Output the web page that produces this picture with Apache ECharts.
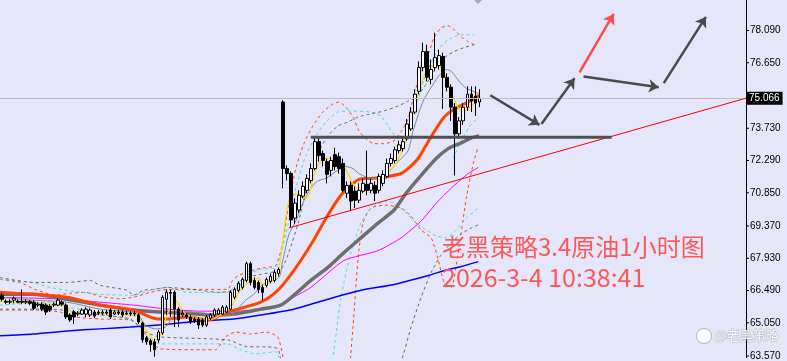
<!DOCTYPE html>
<html><head><meta charset="utf-8">
<script src="https://cdn.jsdelivr.net/npm/echarts@6/dist/echarts.min.js"></script>
<style>html,body{margin:0;padding:0;background:#E6E6FA;}#c{width:787px;height:361px;}</style>
</head><body><div id="c"></div>
<script>
// ---------- DATA ----------
const slotCount = 186; // hourly slots shown (incl. empty right margin)
const categories = Array.from({length: slotCount}, (_, i) => 'H' + i);
// candles: [open, close, low, high]
const candles = [
[66.28,66.10,66.01,66.37],[66.01,65.97,65.88,66.10],[65.97,66.01,65.88,66.10],[66.06,66.15,65.92,66.23],
[66.01,65.97,65.92,66.10],[66.01,65.97,65.88,66.54],[65.97,66.01,65.88,66.10],[66.01,65.92,65.84,66.06],
[65.97,65.70,65.62,66.06],[65.84,65.88,65.75,65.97],[65.88,65.66,65.57,65.97],[65.84,65.53,65.40,65.92],
[65.79,65.62,65.53,65.88],[65.84,65.88,65.75,65.97],[65.84,66.06,65.79,66.15],[65.97,65.88,65.79,66.06],
[65.84,65.31,65.22,65.92],[65.40,65.18,65.09,65.48],[65.53,65.31,65.00,65.62],[65.44,65.48,65.35,65.57],
[65.44,65.62,65.40,65.70],[65.44,65.66,65.31,65.75],[65.40,65.62,65.31,65.70],[65.53,65.35,65.26,65.62],
[65.53,65.48,65.40,65.62],[65.48,65.53,65.40,65.62],[65.53,65.48,65.40,65.62],[65.62,65.31,65.22,65.70],
[65.44,65.53,65.40,65.62],[65.53,65.48,65.40,65.62],[65.53,65.40,65.31,65.62],[65.44,65.48,65.40,65.57],
[65.48,65.44,65.35,65.57],[65.44,65.48,65.35,65.57],[65.40,65.09,65.00,65.48],[65.04,64.29,64.16,65.09],
[64.38,64.20,64.07,64.47],[64.25,64.07,63.76,64.34],[64.20,63.85,63.54,64.34],[64.29,64.64,64.16,64.73],
[64.60,66.19,64.51,66.28],[66.10,66.41,65.40,66.54],[66.41,66.37,65.31,66.54],[66.41,65.66,64.86,66.50],
[65.66,65.18,64.86,65.75],[65.40,65.48,65.31,65.62],[65.40,65.31,65.22,65.48],[65.31,65.09,65.00,65.40],
[65.22,65.13,65.04,65.31],[65.22,64.95,64.78,65.31],[65.18,64.95,64.86,65.26],[64.95,65.31,64.86,65.40],
[65.26,65.40,65.18,65.48],[65.40,65.62,65.31,65.70],[65.44,65.62,65.40,65.70],[65.44,65.75,65.40,65.84],
[65.53,65.75,65.48,65.84],[65.66,66.41,65.62,66.50],[66.19,66.54,66.10,66.63],[66.50,66.81,66.41,66.90],
[66.63,66.99,66.54,67.07],[66.94,67.69,66.85,67.78],[67.69,66.85,66.72,67.78],[66.94,66.63,66.54,67.07],
[66.85,66.54,66.37,66.94],[66.63,66.41,66.06,66.76],[66.72,66.99,66.63,67.07],[66.90,67.12,66.81,67.25],
[66.94,67.30,66.85,67.43],[67.25,67.43,67.12,67.52],[74.90,71.93,71.05,74.98],[71.93,71.71,71.40,72.07],
[71.71,69.64,69.28,71.80],[69.72,70.39,69.46,70.61],[70.08,70.74,69.95,70.96],[70.70,71.14,70.61,71.36],
[70.96,71.49,70.83,71.67],[71.40,71.93,71.27,72.16],[71.93,73.13,71.85,73.35],[73.13,72.51,72.24,73.30],
[72.60,72.29,72.02,72.73],[72.24,71.67,71.27,72.38],[71.85,72.29,71.58,72.46],[72.55,72.02,71.85,72.86],
[72.46,71.93,71.71,72.64],[72.16,70.96,70.87,72.38],[70.83,71.18,70.61,71.36],[71.18,70.48,70.08,71.36],
[70.92,70.52,70.17,71.14],[70.52,70.96,70.39,71.27],[70.92,71.27,70.83,71.49],[71.23,70.96,70.74,72.73],
[70.96,71.27,70.83,71.49],[71.18,70.83,70.48,71.36],[70.96,71.58,70.83,71.71],[71.27,71.67,71.14,71.85],
[71.58,72.16,71.49,72.38],[72.16,72.38,72.02,72.60],[72.29,72.77,72.16,72.91],[72.73,72.99,72.60,73.17],
[72.82,73.13,72.69,73.35],[73.26,73.92,73.17,74.14],[73.70,74.45,73.61,74.67],[74.45,75.25,74.36,75.47],
[75.38,76.44,75.25,76.71],[76.44,77.15,76.27,77.55],[77.15,76.00,75.82,77.46],[75.91,76.35,75.69,76.80],
[76.44,76.88,76.27,77.99],[76.53,76.97,76.35,77.24],[76.93,76.00,74.59,77.10],[76.00,75.56,75.38,76.18],
[75.56,74.67,74.06,75.69],[74.67,73.48,71.62,74.85],[73.48,74.06,73.26,74.23],[74.06,74.67,73.88,74.85],
[74.67,75.25,74.50,75.60],[75.25,74.94,74.45,75.60],[75.16,74.85,74.28,75.60],[74.90,75.066,74.67,75.47]
];
const lastPrice = 75.066;
const yTickValues = [63.57, 65.05, 66.49, 67.93, 69.37, 70.85, 72.29, 73.73, 76.65, 78.09];

// indicator lines: [slot index, price]
const maYellow = [[-0.5,66.01],[4.5,65.97],[7.75,65.92],[12,65.88],[16.25,65.75],[17.75,65.44],[19.5,65.53],[22,65.53],[24.5,65.48],[27,65.48],[30.75,65.40],[34,65.31],[35.75,64.78],[37.5,64.34],[38.75,64.29],[40,64.73],[41.25,65.44],[42.5,65.88],[43.5,66.01],[44.5,65.75],[45.75,65.44],[47.5,65.31],[50,65.22],[52.5,65.22],[54.5,65.40],[56.25,65.62],[57.5,65.88],[58.75,66.32],[60,66.63],[61.5,66.85],[62.75,66.99],[64,67.03],[65,66.76],[67.5,66.94],[69,67.43],[70,68.71],[70.75,69.72],[71.5,70.48],[72.5,70.74],[73.75,70.79],[75,70.65],[76.25,70.65],[77,71.05],[77.75,71.63],[79,72.16],[80.75,72.38],[82,72.38],[83.75,72.24],[85,72.07],[86.25,71.71],[87.75,71.18],[89,70.92],[90.25,70.92],[92,71.05],[93.75,71.18],[95.25,71.49],[96.5,71.80],[98.25,72.16],[99.5,72.60],[100.75,73.26],[102,74.06],[103.25,74.94],[104.5,75.69],[105.75,76.27],[107,76.49],[108,76.57],[109.5,76.44],[110.75,76.00],[112,75.34],[113.25,74.81],[114.5,74.50],[116.25,74.59],[117.75,74.85],[119,75.03]];
const maGrayThin = [[-0.5,66.19],[7.75,66.06],[16.25,65.97],[24.5,65.66],[32,65.53],[34,65.40],[35.75,64.95],[38.25,64.78],[40.75,64.86],[43.25,65.44],[46.5,65.53],[52.5,65.44],[54.5,65.35],[57.5,65.44],[60.75,66.06],[62.75,66.32],[65,66.76],[69,67.07],[70,67.83],[71.5,68.97],[73.25,69.59],[75,70.39],[76.25,70.83],[77.5,71.18],[79,71.40],[80.75,71.49],[83.25,71.80],[85.75,72.02],[87.5,71.93],[89,71.71],[92,71.49],[95.25,71.58],[98.75,72.24],[101.25,72.73],[102.5,73.61],[105,74.94],[107.5,75.69],[109,76.09],[110.75,76.35],[112,76.27],[114,75.82],[115.75,75.51],[117.5,75.38],[119,75.25]];
const maOrange = [[-0.5,66.41],[7.75,66.32],[16.25,66.19],[24.5,65.84],[32.75,65.62],[38.75,65.22],[41.25,65.22],[46.25,65.31],[51.25,65.18],[56.25,65.53],[64.5,65.97],[68.75,66.50],[72.75,67.38],[77,68.53],[81.25,69.86],[84.5,70.74],[87,71.18],[89,71.45],[92,71.49],[96.25,71.58],[99.5,71.71],[101.25,71.93],[103.75,72.38],[106.25,73.13],[107.75,73.57],[110.25,74.23],[112.75,74.59],[116.25,74.90],[119,75.20]];
const maGrayThick = [[-0.5,66.32],[7.75,66.32],[16.25,66.10],[24.5,65.84],[32.75,65.62],[39.5,65.53],[46.25,65.48],[52.75,65.40],[57.75,65.44],[64.5,65.66],[69.5,65.84],[72.75,66.28],[77,66.94],[81.25,67.52],[85.25,68.18],[89.5,68.84],[93.75,69.50],[97.75,70.08],[100.75,70.83],[104.5,71.63],[108.25,72.38],[111.25,72.82],[114.5,73.08],[117,73.30],[119,73.39]];
const maMagenta = [[-0.5,66.19],[16.25,66.10],[24.5,65.97],[32.75,65.84],[41.25,65.66],[49.5,65.57],[57.75,65.57],[64.5,65.62],[68.75,65.75],[72.75,66.19],[77,66.63],[85.25,67.83],[93.75,68.27],[99.5,68.84],[104.5,69.59],[108.75,70.48],[112.75,71.18],[116.25,71.71],[118.75,71.98]];
const maBlue = [[-0.5,64.47],[7.75,64.55],[16.25,64.69],[24.5,64.78],[32,64.86],[41.25,64.99],[49.5,65.13],[57.75,65.22],[64.5,65.40],[72.75,65.66],[81.25,66.10],[89.5,66.50],[97.75,66.76],[106.25,67.16],[111.25,67.43],[114.5,67.56],[118.75,67.78]];
const bandOrangeUp = [[-0.5,66.99],[4.5,66.85],[8.25,66.54],[13.25,66.28],[17,66.37],[20.75,66.41],[24.5,66.23],[29.5,66.12],[32.75,66.19],[37,66.41],[41.25,66.54],[49.5,66.54],[56.25,66.54],[57.5,66.94],[59,67.16],[60.75,67.30],[63.25,67.43],[65.75,67.52],[68.25,67.60],[70,68.62],[71.5,70.39],[73.25,71.93],[75.25,73.04],[77.5,73.83],[80,74.45],[82.5,74.81],[84,74.90],[85.75,74.67],[87.5,74.23],[89,73.61],[90.75,73.26],[92.75,73.04],[95.25,73.04],[97.75,73.17],[99.5,73.57],[101.25,74.14],[102.75,75.25],[104.5,76.22],[106.25,77.02],[107.75,77.77],[109.5,78.21],[111.25,78.30],[112.75,78.12],[114.5,77.81],[116.25,77.59],[117.75,77.46]];
const bandOrangeLow = [[-0.5,65.62],[9.5,65.62],[14.5,65.53],[18.25,65.31],[24.5,65.22],[32,65.18],[34.5,64.86],[37,64.20],[39.5,63.89],[49.5,63.85],[53.25,63.85],[55.75,64.42],[58.25,64.64],[62,64.55],[65.75,64.64],[68.75,64.42],[70.25,63.32],[72,60.89],[79.5,59.12],[85.75,61.77],[87.5,64.86],[88.75,67.87],[90,69.50],[92,70.17],[95.75,70.30],[99.5,70.17],[102,69.81],[104.5,69.19],[107,68.84],[108.75,67.87],[110.25,66.85],[112,66.63],[113.75,68.18],[115.75,70.61],[117.5,72.16],[118.75,72.91]];
const bandCyanUp = [[-0.5,66.99],[7.75,66.85],[12,66.63],[16.25,66.50],[24.5,66.32],[32.75,66.28],[37,66.50],[41.25,66.63],[46.25,66.41],[56.25,66.41],[57.75,66.63],[61.25,67.21],[64.5,67.43],[68.25,67.52],[70.75,68.97],[73.25,71.05],[75.75,72.51],[78.25,73.39],[80.75,74.01],[83.75,74.45],[86.25,74.50],[92,74.45],[94.5,74.28],[96.25,73.83],[98.75,73.26],[100.25,73.26],[102,74.01],[103.75,75.03],[105.25,75.91],[107,76.66],[108.75,77.24],[111.25,77.68],[114.5,77.90],[117.75,77.90]];
const bandCyanLow = [[-0.5,65.84],[12,65.97],[16.25,65.75],[20.25,65.62],[24.5,65.44],[28.75,65.31],[32,65.18],[34.5,64.86],[37,64.29],[39.5,64.11],[56.25,64.11],[59.5,63.85],[63.25,63.67],[68.25,63.76],[70.25,62.65],[74.5,59.12],[79,60.89],[82.5,63.54],[84.5,66.19],[87,68.18],[89.5,69.50],[92,70.17],[95.75,70.48],[97.75,70.39],[100.75,69.95],[103.25,69.50],[105.75,69.19],[108.25,68.93],[110.75,68.84],[113.25,69.19],[115.75,69.72],[118.75,70.17]];
const bandCyanInner = [[112.5,72.38],[114.5,73.17],[116.5,73.79],[118.75,74.23]];
const bandGrayUp = [[-0.5,67.07],[7.75,66.85],[16.25,66.85],[22,66.94],[24.5,66.72],[31.25,66.50],[32.75,66.28],[35.25,66.50],[37.75,66.54],[41.25,66.63],[49.5,66.50],[53.75,66.41],[57.75,66.50],[61.25,67.07],[64.5,67.21],[69.5,67.43],[71.5,68.18],[74,69.59],[76.5,71.49],[79,72.69],[81.25,73.39],[83.75,73.83],[86.25,74.01],[88.75,74.23],[92,74.37],[95.25,74.50],[98.75,74.72],[101.25,74.94],[103.25,75.12],[105.75,75.69],[108.25,76.44],[110.25,76.88],[112.75,77.15],[115.25,77.33],[117.75,77.46]];
const bandGrayLow = [[-0.5,65.66],[12,65.66],[24.5,65.40],[32,65.22],[35.75,64.64],[39.5,64.42],[56.25,64.29],[61.25,63.98],[65,63.98],[68.75,63.89],[70.25,62.65],[74.5,59.12],[89.5,59.12],[99.5,63.32],[102,64.86],[104.5,66.19],[107,67.30],[109.5,68.09],[112,68.62],[114.5,69.02],[117,69.28],[118.75,69.42]];

// drawn annotations (slot index, price)
const trendLine = [[71.5,69.28],[185.5,75.07]];
const levelLine = [[77,73.33],[152,73.33]];
const arrowsGray = [
  [[121.75,75.20],[134,73.88]],
  [[134.5,73.92],[142.75,75.96]],
  [[145,76.04],[163.75,75.56]],
  [[165,75.74],[175.5,78.70]]
];
const arrowsRed = [[[144,76.22],[152.5,78.83]]];
const titleText = '老黑策略3.4原油1小时图';
const timeText = '2026-3-4 10:38:41';
const watermarkText = '@老黑策略';

// ---------- CHART ----------
const chart = echarts.init(document.getElementById('c'), null, {renderer: 'canvas'});
function mkLine(name, data, color, width, dashed, smooth) {
  return {
    name, type: 'line', xAxisIndex: 1, yAxisIndex: 0, data,
    showSymbol: false, symbol: 'none', smooth: smooth || 0, silent: true, z: 3,
    lineStyle: {color, width, type: dashed ? [3, 3] : 'solid'}
  };
}
const series = [
  mkLine('bou', bandOrangeUp, '#FF4500', 1, true, 0.2),
  mkLine('bol', bandOrangeLow, '#FF4500', 1, true, 0.2),
  mkLine('bcu', bandCyanUp, '#40E0D0', 1, true, 0.2),
  mkLine('bcl', bandCyanLow, '#40E0D0', 1, true, 0.2),
  mkLine('bci', bandCyanInner, '#40E0D0', 1, true, 0.2),
  mkLine('bgu', bandGrayUp, '#696969', 1, true, 0.2),
  mkLine('bgl', bandGrayLow, '#696969', 1, true, 0.2),
  {
    name: 'k', type: 'candlestick', xAxisIndex: 0, yAxisIndex: 0, data: candles,
    barWidth: 3, z: 4, silent: true,
    itemStyle: {color: '#FFFFFF', color0: '#000000', borderColor: '#000000', borderColor0: '#000000', borderWidth: 1},
    markLine: {
      silent: true, symbol: 'none', animation: false,
      lineStyle: {color: '#C0C0C0', width: 1, type: 'solid'},
      label: {position: 'end', distance: 0, formatter: () => lastPrice.toFixed(3), color: '#FFFFFF', backgroundColor: '#000000',
              padding: [2, 3, 1, 3], fontSize: 10, fontFamily: 'Liberation Sans'},
      data: [{yAxis: lastPrice}]
    }
  },
  mkLine('blue', maBlue, '#0000FF', 1.5, false, 0.2),
  mkLine('mag', maMagenta, '#FF00FF', 1, false, 0.2),
  mkLine('gthick', maGrayThick, '#6E6E6E', 3.5, false, 0.25),
  mkLine('orange', maOrange, '#FF4500', 3, false, 0.25),
  mkLine('gthin', maGrayThin, '#7A8A99', 1, false, 0.25),
  mkLine('yellow', maYellow, '#FFD700', 1.2, false, 0.25),
  {type: 'line', xAxisIndex: 1, data: trendLine, showSymbol: false, symbol: 'none', silent: true, z: 5,
   lineStyle: {color: '#FF0000', width: 1}},
  {type: 'line', xAxisIndex: 1, data: levelLine, showSymbol: false, symbol: 'none', silent: true, z: 5,
   lineStyle: {color: '#505050', width: 3}},
  {type: 'lines', coordinateSystem: 'cartesian2d', xAxisIndex: 1, yAxisIndex: 0, silent: true, z: 6,
   symbol: ['none', 'arrow'], symbolSize: 10,
   lineStyle: {color: '#4A4A4A', width: 2.5, opacity: 1, curveness: 0},
   data: arrowsGray.map(c => ({coords: c}))},
  {type: 'lines', coordinateSystem: 'cartesian2d', xAxisIndex: 1, yAxisIndex: 0, silent: true, z: 6,
   symbol: ['none', 'arrow'], symbolSize: 10,
   lineStyle: {color: '#FF4A4A', width: 2.5, opacity: 1, curveness: 0},
   data: arrowsRed.map(c => ({coords: c}))}
];

chart.setOption({
  animation: false,
  backgroundColor: '#E6E6FA',
  grid: {left: 0, right: 41, top: 0, bottom: 0, containLabel: false},
  xAxis: [
    {type: 'category', data: categories, boundaryGap: true, show: false},
    {type: 'value', min: -0.5, max: slotCount - 0.5, show: false,
     axisLine: {show: false, onZero: false}, axisTick: {show: false}, axisLabel: {show: false}, splitLine: {show: false}}
  ],
  yAxis: [{
    type: 'value', position: 'right', min: 63.5, max: 79.45,
    axisLine: {show: true, onZero: false, lineStyle: {color: '#000000', width: 1}},
    axisTick: {show: false},
    axisLabel: {show: true, customValues: yTickValues, margin: 0, color: '#000000', fontSize: 10,
      fontFamily: 'Liberation Sans',
      formatter: v => '{t|}{n|' + Number(v).toFixed(3) + '}',
      rich: {
        t: {width: 3, height: 1, backgroundColor: '#000000', verticalAlign: 'middle'},
        n: {fontSize: 10, fontFamily: 'Liberation Sans', color: '#000000', padding: [0, 0, 0, 1], verticalAlign: 'middle'}
      }},
    splitLine: {show: false}
  }],
  graphic: [
    {type: 'polygon', shape: {points: [[474, 0], [482, 0], [478, 4]]}, silent: true, z: 100,
     style: {fill: '#A8A8A8'}},
    {type: 'text', left: 442, top: 235, z: 100, silent: true,
     style: {text: titleText, fill: '#F85A5A', font: '24px "Noto Sans CJK SC", sans-serif'}},
    {type: 'text', left: 442, top: 265, z: 100, silent: true,
     style: {text: timeText, fill: '#F85A5A', font: '25px "Noto Sans CJK SC", sans-serif'}},
    {type: 'circle', shape: {cx: 704, cy: 336, r: 7.5}, z: 100, silent: true,
     style: {fill: 'rgba(255,255,255,0.9)', stroke: 'rgba(140,140,140,0.6)', lineWidth: 1}},
    {type: 'text', left: 714, top: 328, z: 100, silent: true,
     style: {text: watermarkText, fill: 'rgba(255,255,255,0.9)', stroke: 'rgba(130,130,130,0.45)', lineWidth: 1,
             font: '13px "Noto Sans CJK SC", sans-serif'}}
  ],
  series
});
</script>
</body></html>
